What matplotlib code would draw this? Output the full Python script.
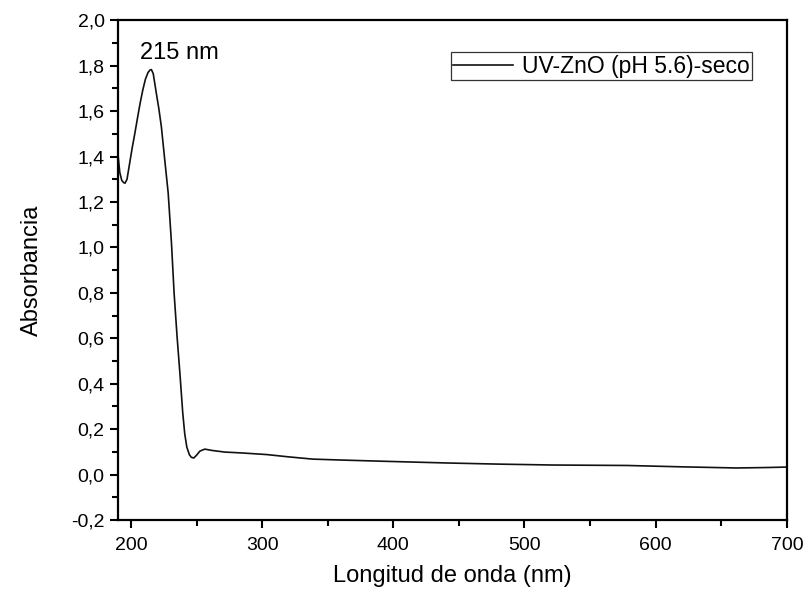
import numpy as np
import matplotlib
matplotlib.use("Agg")
import matplotlib.pyplot as plt
from matplotlib.ticker import MultipleLocator, FuncFormatter

# UV-Vis spectrum (wavelength nm, absorbance)
wl = [190.0, 191.5, 193.0, 194.5, 195.5, 197.0, 199.0, 201.0, 203.0, 205.0,
      207.0, 209.0, 211.0, 213.0, 214.5, 215.6, 217.0, 219.4, 221.3, 223.2,
      225.8, 228.4, 230.9, 232.9, 235.2, 237.4, 239.5, 241.0, 242.6, 244.5,
      246.0, 247.9, 250.0, 252.5, 256.3, 262.0, 271.6, 285.0, 303.6, 320.0,
      338.6, 360.0, 389.7, 415.0, 440.8, 480.0, 521.5, 550.0, 578.0, 620.0,
      661.8, 685.0, 700.0]
absb = [1.415, 1.330, 1.295, 1.285, 1.283, 1.300, 1.370, 1.440, 1.503, 1.570,
        1.635, 1.692, 1.740, 1.770, 1.781, 1.783, 1.765, 1.677, 1.610, 1.531,
        1.384, 1.239, 1.019, 0.799, 0.605, 0.440, 0.271, 0.180, 0.121, 0.088,
        0.076, 0.073, 0.085, 0.103, 0.112, 0.106, 0.099, 0.095, 0.088, 0.078,
        0.068, 0.064, 0.059, 0.055, 0.051, 0.046, 0.042, 0.041, 0.040, 0.034,
        0.029, 0.031, 0.033]

peak_label = "215 nm"
series_label = "UV-ZnO (pH 5.6)-seco"

plt.rcParams["font.family"] = ["Liberation Sans", "DejaVu Sans"]

fig = plt.figure(figsize=(8.07, 5.97), dpi=100)
ax = fig.add_axes([0.146, 0.129, 0.829, 0.837])

ax.plot(wl, absb, color="#111111", lw=1.2, label=series_label)

ax.set_xlim(190, 700)
ax.set_ylim(-0.2, 2.0)
ax.xaxis.set_major_locator(MultipleLocator(100))
ax.xaxis.set_minor_locator(MultipleLocator(50))
ax.yaxis.set_major_locator(MultipleLocator(0.2))
ax.yaxis.set_minor_locator(MultipleLocator(0.1))
ax.yaxis.set_major_formatter(FuncFormatter(lambda v, p: f"{v:.1f}".replace(".", ",")))

for s in ax.spines.values():
    s.set_linewidth(1.6)
ax.tick_params(which="both", direction="out", width=1.5, labelsize=14)
ax.tick_params(which="major", length=6)
ax.tick_params(which="minor", length=4)
ax.tick_params(axis="x", pad=6)

ax.set_xlabel("Longitud de onda (nm)", fontsize=17, labelpad=8)
ax.set_ylabel("Absorbancia", fontsize=17, labelpad=20)

ax.text(206.8, 1.83, peak_label, fontsize=17, va="baseline")

leg = ax.legend(loc="upper right", bbox_to_anchor=(0.948, 0.936), fontsize=16.5,
                frameon=True, fancybox=False, handlelength=2.6, borderpad=0.1,
                handletextpad=0.4, borderaxespad=0)
leg.get_frame().set_edgecolor("black")
leg.get_frame().set_linewidth(0.9)

fig.savefig("out.png", dpi=100)
